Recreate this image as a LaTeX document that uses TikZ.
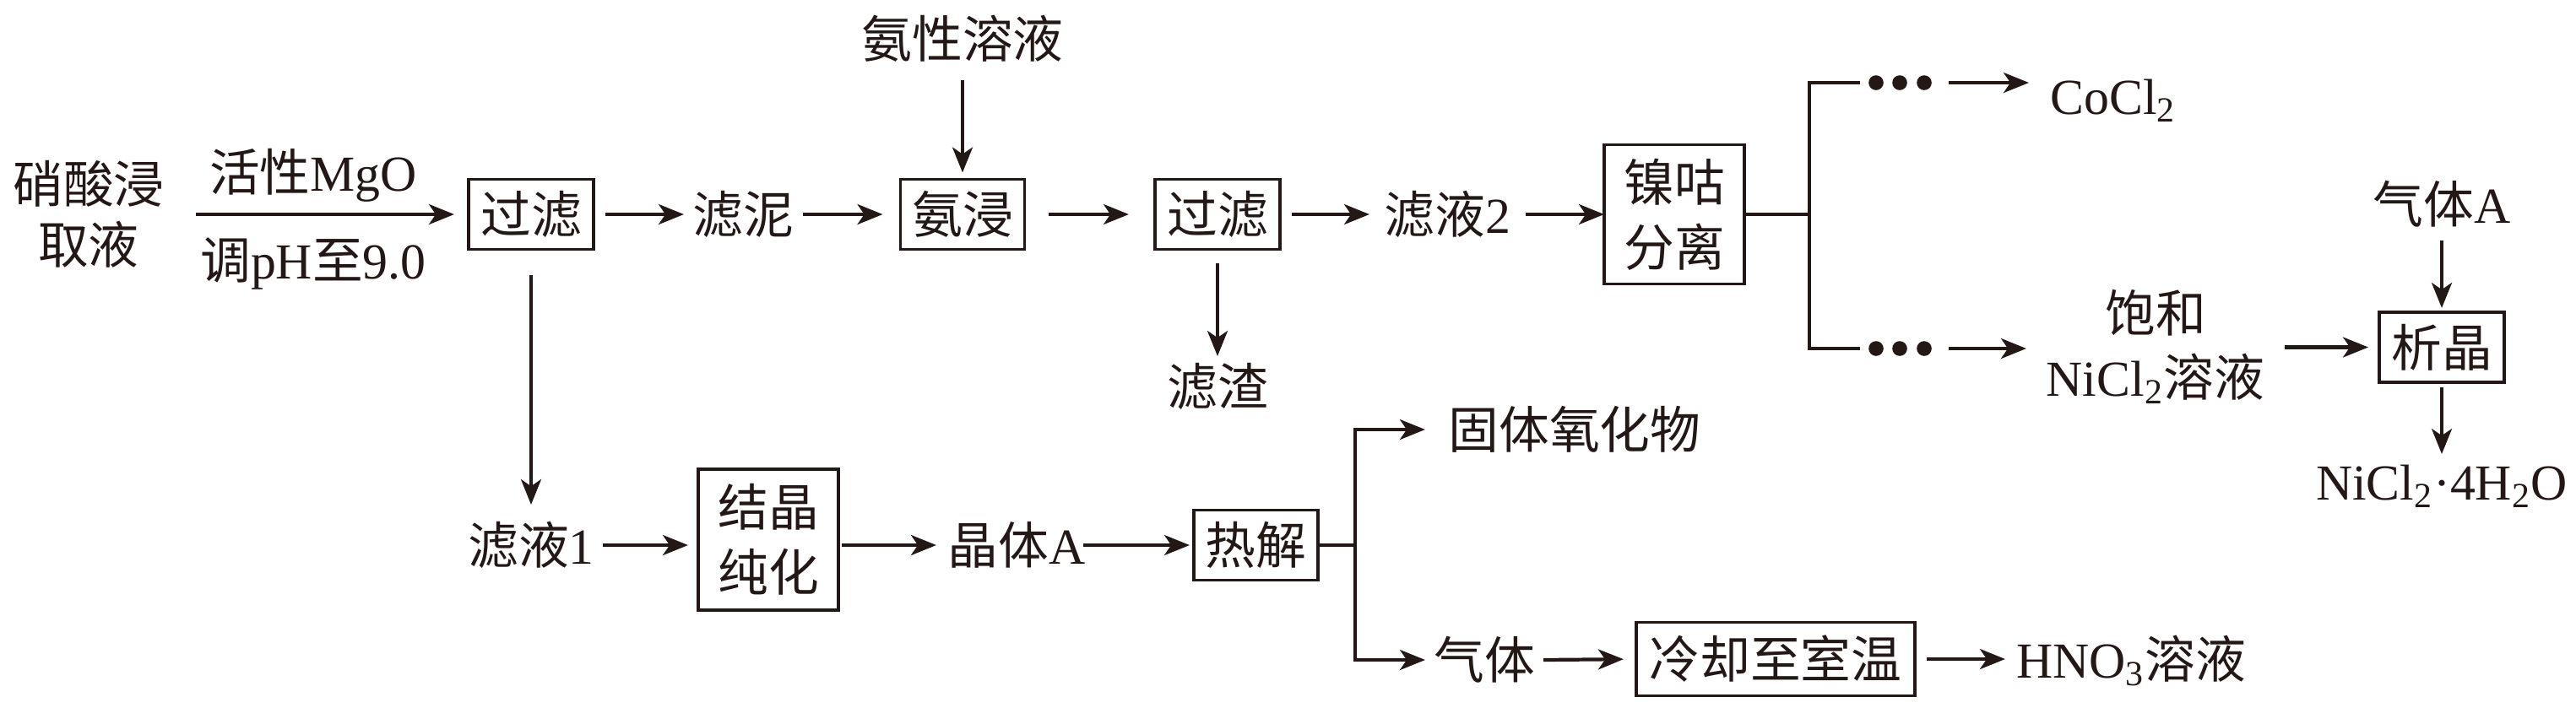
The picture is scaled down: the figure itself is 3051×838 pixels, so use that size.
\documentclass[tikz,border=0pt]{standalone}
\usepackage{fontspec}
\setmainfont{Liberation Serif}
\newfontfamily\cjk{Noto Sans CJK SC}
\newcommand\zh[1]{{\cjk #1}}
\newcommand\fs{\fontsize{17pt}{20.5pt}\selectfont}
\newcommand\fsw{\fontsize{17pt}{21.8pt}\selectfont}
\usetikzlibrary{arrows.meta,calc}
\definecolor{ink}{RGB}{35,24,21}
\tikzset{
  base/.style={inner sep=0pt, outer sep=0pt, font=\fs, text=ink, align=center},
  txt/.style={base, text height=14.2pt, text depth=1.3pt},
  box/.style={base, draw=ink, line width=1pt},
  sbox/.style={box, minimum width=1.48cm, minimum height=0.83cm, text height=14.2pt, text depth=1.3pt},
  ln/.style={draw=ink, line width=1.2pt},
  arr/.style={ln, -{Stealth[length=8.5pt,width=6.8pt,inset=2.3pt]}},
  dotsbox/.style={base, minimum width=1.05cm, minimum height=0.2cm},
}
\begin{document}
\begin{tikzpicture}[x=0.01cm, y=-0.01cm]
\useasboundingbox (0,0) rectangle (3051,838);

% top row
\node[base, minimum width=2.54cm] (src) at (105,254) {\zh{硝酸浸}\\\zh{取液}};
\node[txt] (lt) at (371,204) {\zh{活性}MgO};
\node[txt] (lb) at (371,308) {\zh{调}pH\zh{至}9.0};
\node[sbox] (f1) at (629,254) {\zh{过滤}};
\node[txt, minimum width=1.41cm] (mud) at (880.5,254) {\zh{滤泥}};
\node[sbox, minimum width=1.47cm] (amm) at (1140,254) {\zh{氨浸}};
\node[txt, minimum height=0.98cm] (ams) at (1140,46) {\zh{氨性溶液}};
\node[sbox] (f2) at (1442,254) {\zh{过滤}};
\node[txt, minimum height=0.72cm] (res) at (1442,458) {\zh{滤渣}};
\node[txt, minimum width=1.85cm] (fl2) at (1714.5,254) {\zh{滤液}2};
\node[box, font=\fsw, minimum width=1.66cm, minimum height=1.65cm] (sep) at (1983,254) {\zh{镍咕}\\\zh{分离}};
\coordinate (b1) at (2143,254);
\node[dotsbox] (d1) at (2255.5,98) {};
\node[dotsbox] (d2) at (2255.5,413) {};
\foreach \dx in {-0.335cm,-0.055cm,0.235cm}{
  \fill[ink] ([xshift=\dx]d1.center) circle[radius=0.088cm];
  \fill[ink] ([xshift=\dx]d2.center) circle[radius=0.088cm];
}
\node[txt, minimum width=2cm] (co) at (2503,113) {CoCl\textsubscript{2}};
\node[base, font=\fsw, minimum width=3.06cm] (sat) at (2553,411) {\zh{饱和}\\NiCl\textsubscript{2}\zh{溶液}};
\node[sbox] (cry) at (2892,411.5) {\zh{析晶}};
\node[txt, minimum height=0.86cm] (ga) at (2892,242) {\zh{气体}A};
\node[txt, minimum height=0.64cm] (prod) at (2892,570) {NiCl\textsubscript{2}·4H\textsubscript{2}O};

% bottom row
\node[txt, minimum width=1.7cm, minimum height=0.96cm] (fl1) at (629,646) {\zh{滤液}1};
\node[box, font=\fsw, minimum width=1.66cm, minimum height=1.67cm] (pur) at (910,639.5) {\zh{结晶}\\\zh{纯化}};
\node[txt, minimum width=1.9cm] (cA) at (1204,646) {\zh{晶体}A};
\node[sbox, minimum width=1.47cm] (py) at (1487.5,646) {\zh{热解}};
\coordinate (b2) at (1605,646);
\node[txt, minimum width=3.54cm] (sol) at (1865,509) {\zh{固体氧化物}};
\node[txt, minimum width=1.4cm] (gas) at (1758,782) {\zh{气体}};
\node[box, minimum width=3.3cm, minimum height=0.87cm, text height=14.2pt, text depth=1.3pt] (cool) at (2103,781) {\zh{冷却至室温}};
\node[txt, minimum width=2.98cm] (hno) at (2524,781) {HNO\textsubscript{3}\zh{溶液}};

% connectors top
\draw[arr, shorten >=0.17cm] (src.east) -- (f1.west);
\draw[arr, shorten <=0.14cm] (f1.east) -- (mud.west);
\draw[arr, shorten >=0.21cm] (mud.east) -- (amm.west);
\draw[arr, shorten <=0.28cm, shorten >=0.31cm] (amm.east) -- (f2.west);
\draw[arr, shorten >=0.08cm] (ams.south) -- (amm.north);
\draw[arr, shorten <=0.16cm] (f2.south) -- (res.north);
\draw[arr, shorten <=0.14cm] (f2.east) -- (fl2.west);
\draw[arr] (fl2.east) -- (sep.west);
\draw[ln] (sep.east) -- (b1);
\draw[ln] (b1) |- (d1.west);
\draw[ln] (b1) |- (d2.west);
\draw[arr] (d1.east) -- (d1.east -| co.west);
\draw[arr] (d2.east) -- (d2.east -| sat.west);
\draw[arr, shorten >=0.13cm] (sat.east |- cry.west) -- (cry.west);
\draw[arr, shorten >=0.05cm] (ga.south) -- (cry.north);
\draw[arr, shorten <=0.06cm] (cry.south) -- (prod.north);

% connectors bottom
\draw[arr, shorten <=0.30cm] (f1.south) -- (fl1.north);
\draw[arr, shorten >=0.12cm] (fl1.east) -- (fl1.east -| pur.west);
\draw[arr, shorten <=0.04cm] (pur.east |- cA.west) -- (cA.west);
\draw[arr, shorten <=-0.16cm, shorten >=0.05cm] (cA.east) -- (py.west);
\draw[ln] (py.east) -- (b2);
\draw[arr] (b2) |- (sol.west);
\draw[arr] (b2) |- (gas.west);
\draw[arr, shorten >=0.15cm] (gas.east) -- (cool.west);
\draw[arr, shorten <=0.14cm] (cool.east) -- (hno.west);
\end{tikzpicture}
\end{document}
